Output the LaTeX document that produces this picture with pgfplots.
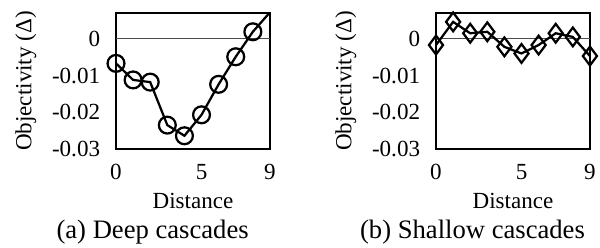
\documentclass[border=0pt]{standalone}
\usepackage{fontspec}
\setmainfont{Liberation Serif}
\usepackage{pgfplots}
\pgfplotsset{compat=1.18}
\begin{document}
\fontsize{12.3}{14}\selectfont
\begin{tikzpicture}
\useasboundingbox (0,0) rectangle (320pt,131.73pt);
\pgfplotsset{
  myax/.style={
    scale only axis, width=82.1pt, height=72.5pt,
    xmin=0, xmax=9, ymin=-0.03, ymax=0.007,
    xtick={0,5,9}, ytick={-0.03,-0.02,-0.01,0},
    scaled y ticks=false, scaled x ticks=false,
    yticklabels={-0.03,-0.02,-0.01,0},
    xticklabels={0,5,9},
    major tick length=0pt,
    axis line style={line width=0.9pt},
    xticklabel style={inner sep=0pt, anchor=base, yshift=-16.5pt},
    yticklabel style={inner sep=0pt, anchor=east, xshift=-8.3pt},
    xlabel={Distance},
    xlabel style={at={(axis description cs:0.5,0)}, anchor=base, yshift=-31.5pt, inner sep=0pt},
    ylabel={Objectivity (Δ)},
    ylabel style={at={(axis description cs:-0.585,0.5)}, anchor=center, rotate=0, inner sep=0pt},
    clip mode=individual,
    /pgf/number format/assume math mode=true,
  }
}
\begin{axis}[myax, at={(61.87pt,52.27pt)}, anchor=south west]
\addplot[gray!60!black, line width=0.6pt, forget plot] coordinates {(0,0) (9,0)};
\addplot[black, line width=1.2pt, no marks] coordinates {
(0,-0.0067) (1,-0.0112) (2,-0.0118) (3,-0.0235) (4,-0.0264) (5,-0.0207) (6,-0.0124) (7,-0.0049) (8,0.0019) (9,0.0072)};
\addplot[black, line width=1.2pt, only marks, mark=o, mark size=4.5pt] coordinates {
(0,-0.0067) (1,-0.0112) (2,-0.0118) (3,-0.0235) (4,-0.0264) (5,-0.0207) (6,-0.0124) (7,-0.0049) (8,0.0019)};
\end{axis}
\begin{axis}[myax, at={(232.53pt,52.27pt)}, anchor=south west]
\addplot[gray!60!black, line width=0.6pt, forget plot] coordinates {(0,0) (9,0)};
\addplot[black, line width=1.2pt, mark=diamond, mark size=5pt] coordinates {
(0,-0.0017) (1,0.0046) (2,0.0015) (3,0.0019) (4,-0.0022) (5,-0.0040) (6,-0.0017) (7,0.0015) (8,0.0005) (9,-0.0047)};
\end{axis}
\node[font=\fontsize{14.2}{16}\selectfont, anchor=base, inner sep=0pt] at (81.4pt,4.8pt) {(a) Deep cascades};
\node[font=\fontsize{14.2}{16}\selectfont, anchor=base, inner sep=0pt] at (252pt,4.8pt) {(b) Shallow cascades};
\end{tikzpicture}
\end{document}
